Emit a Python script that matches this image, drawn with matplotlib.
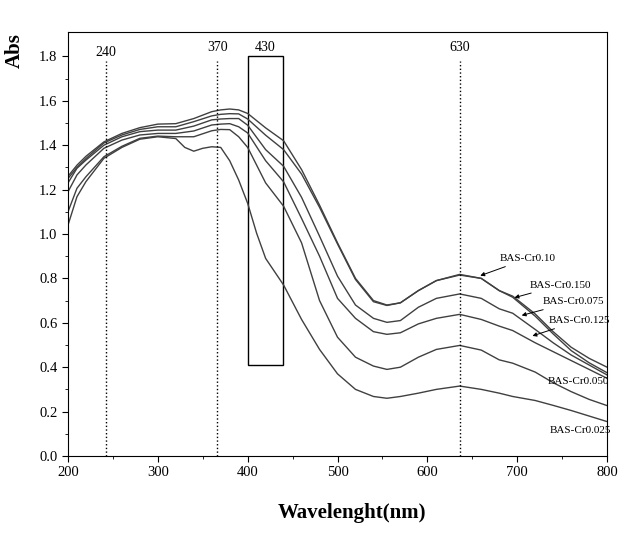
import numpy as np
import matplotlib
matplotlib.use('Agg')
import matplotlib.pyplot as plt
from matplotlib.patches import Rectangle

plt.rcParams['font.family'] = ['Liberation Serif', 'DejaVu Serif']

# wavelength grid (nm)
wl = [200, 210, 220, 240, 260, 280, 300, 320, 340, 360, 370, 380, 390, 400, 420, 440,
      460, 480, 500, 520, 540, 555, 570, 590, 610, 636, 660, 680, 695, 720, 740, 760, 780, 800]

cr010 = [1.26, 1.31, 1.35, 1.415, 1.453, 1.479, 1.495, 1.497, 1.52, 1.551, 1.559, 1.563, 1.559, 1.543, 1.478, 1.42,
         1.29, 1.13, 0.96, 0.80, 0.70, 0.68, 0.69, 0.745, 0.79, 0.818, 0.80, 0.745, 0.72, 0.64, 0.56, 0.49, 0.44, 0.40]
cr0150 = [1.25, 1.30, 1.34, 1.41, 1.446, 1.471, 1.483, 1.483, 1.506, 1.532, 1.539, 1.542, 1.541, 1.518, 1.445, 1.38,
          1.27, 1.12, 0.955, 0.795, 0.695, 0.678, 0.69, 0.745, 0.79, 0.815, 0.80, 0.745, 0.715, 0.63, 0.55, 0.475, 0.42, 0.375]
cr0075 = [1.23, 1.296, 1.333, 1.40, 1.438, 1.461, 1.468, 1.468, 1.486, 1.514, 1.518, 1.52, 1.52, 1.49, 1.38, 1.305,
          1.165, 0.99, 0.81, 0.68, 0.62, 0.602, 0.61, 0.67, 0.71, 0.73, 0.71, 0.663, 0.643, 0.57, 0.51, 0.455, 0.41, 0.365]
cr0125 = [1.19, 1.266, 1.311, 1.386, 1.423, 1.446, 1.453, 1.453, 1.464, 1.491, 1.495, 1.497, 1.483, 1.455, 1.33, 1.235,
          1.07, 0.90, 0.71, 0.62, 0.56, 0.548, 0.555, 0.595, 0.62, 0.638, 0.615, 0.585, 0.565, 0.51, 0.47, 0.43, 0.39, 0.35]
cr0050 = [1.10, 1.206, 1.258, 1.348, 1.395, 1.431, 1.441, 1.438, 1.438, 1.465, 1.471, 1.47, 1.438, 1.39, 1.23, 1.125,
          0.96, 0.70, 0.535, 0.445, 0.405, 0.39, 0.40, 0.445, 0.48, 0.498, 0.477, 0.433, 0.418, 0.378, 0.33, 0.29, 0.255, 0.227]

# lowest curve has its own dip near 340 nm
wl_low = [200, 210, 220, 240, 260, 280, 300, 320, 330, 340, 350, 360, 370, 380, 390, 400, 410, 420, 440,
          460, 480, 500, 520, 540, 555, 570, 590, 610, 636, 660, 680, 695, 720, 740, 760, 780, 800]
cr0025 = [1.04, 1.168, 1.236, 1.341, 1.39, 1.427, 1.438, 1.43, 1.39, 1.373, 1.386, 1.393, 1.39, 1.33, 1.243, 1.138, 1.003, 0.89, 0.77,
          0.615, 0.48, 0.37, 0.30, 0.268, 0.26, 0.268, 0.283, 0.30, 0.315, 0.30, 0.283, 0.268, 0.25, 0.228, 0.205, 0.18, 0.155]

vlines = [242, 366, 636]
vlabels = ['240', '370', '630']
vlabel_y = [1.79, 1.81, 1.81]

fig = plt.figure(figsize=(6.33, 5.33), dpi=100)
ax = fig.add_axes([0.1074, 0.1445, 0.8516, 0.7955])

c = '#404040'
for y in [cr010, cr0150, cr0075, cr0125, cr0050]:
    ax.plot(wl, y, color=c, lw=1.0)
ax.plot(wl_low, cr0025, color=c, lw=1.0)

for x, t, ty in zip(vlines, vlabels, vlabel_y):
    ax.plot([x, x], [0, 1.78], color='black', ls=':', lw=1.0)
    ax.text(x, ty, t, ha='center', va='bottom', fontsize=10)

ax.add_patch(Rectangle((400, 0.41), 39, 1.39, fill=False, ec='black', lw=1.0))
ax.text(419.5, 1.81, '430', ha='center', va='bottom', fontsize=10)

akw = dict(arrowstyle='-|>', color='black', lw=0.7, mutation_scale=6)
ax.annotate('BAS-Cr0.10', xy=(656, 0.808), xytext=(681, 0.89), fontsize=8, ha='left', va='center', arrowprops=akw)
ax.annotate('BAS-Cr0.150', xy=(694, 0.71), xytext=(714, 0.77), fontsize=8, ha='left', va='center', arrowprops=akw)
ax.annotate('BAS-Cr0.075', xy=(702, 0.63), xytext=(728, 0.695), fontsize=8, ha='left', va='center', arrowprops=akw)
ax.annotate('BAS-Cr0.125', xy=(714, 0.537), xytext=(735, 0.61), fontsize=8, ha='left', va='center', arrowprops=akw)
ax.text(734, 0.335, 'BAS-Cr0.050', fontsize=8, ha='left', va='center')
ax.text(736, 0.113, 'BAS-Cr0.025', fontsize=8, ha='left', va='center')

ax.set_xlim(200, 800)
ax.set_ylim(0, 1.91)
ax.set_xticks(np.arange(200, 801, 100))
ax.set_xticks(np.arange(250, 800, 100), minor=True)
ax.set_yticks(np.arange(0, 1.81, 0.2))
ax.set_yticks(np.arange(0.1, 1.9, 0.2), minor=True)
ax.set_yticklabels(['%.1f' % v for v in np.arange(0, 1.81, 0.2)])
ax.tick_params(which='both', direction='out', top=False, right=False, labelsize=10.5)
ax.tick_params(which='major', length=4)
ax.tick_params(which='minor', length=2.5)

fig.text(0.024, 0.906, 'Abs', rotation=90, fontsize=15, fontweight='bold', ha='center', va='center')
fig.text(0.556, 0.0375, 'Wavelenght(nm)', fontsize=15, fontweight='bold', ha='center', va='center')

fig.savefig('out.png', dpi=100)
